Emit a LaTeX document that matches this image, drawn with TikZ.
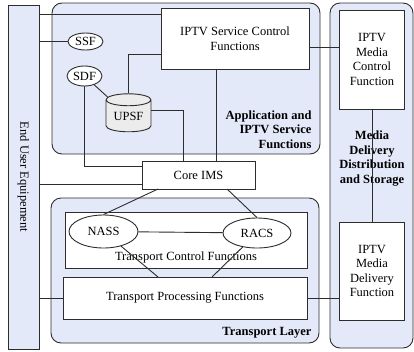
\documentclass[tikz,border=0pt]{standalone}
\usepackage{fontspec}
\setmainfont{Liberation Serif}
\usetikzlibrary{shapes.geometric}
\definecolor{panelfill}{RGB}{228,233,250}
\definecolor{edge}{RGB}{45,45,45}
\definecolor{drum}{RGB}{236,236,236}

\begin{document}
\begin{tikzpicture}[x=1pt,y=1pt,yscale=-1,
  font=\fontsize{12.5}{14.5}\selectfont,
  panel/.style={draw=edge, fill=panelfill, rounded corners=10pt, line width=0.9pt},
  box/.style={draw=edge, fill=white, line width=0.9pt, align=center, inner sep=0pt},
  oval/.style={ellipse, draw=edge, fill=white, line width=0.9pt, inner sep=0pt},
  tag/.style={font=\fontsize{12.5}{14.5}\selectfont\bfseries},
  link/.style={draw=edge, line width=0.9pt}]
\useasboundingbox (0,0) rectangle (414,351);

%Shape: Panels
\draw [panel] (52,3) rectangle (320,154);
\draw [panel] (330,3) rectangle (413,348);
\draw [panel] (51,198) rectangle (319,343);

%Shape: End user bar
\node [box, fill=panelfill, minimum width=31pt, minimum height=344pt,
  label={[rotate=-90]center:End User Equipement}] (eue) at (23.5,177) {};

%Application and IPTV service functions
\node [box, minimum width=148pt, minimum height=61pt] (scf) at (235,38.5) {IPTV Service Control\\Functions};
\node [oval, minimum width=35pt, minimum height=17pt] (ssf) at (85.5,41.5) {SSF};
\node [oval, minimum width=35pt, minimum height=20pt] (sdf) at (84.5,76) {SDF};
\node [cylinder, shape border rotate=90, aspect=0.4, draw=edge, fill=drum, line width=0.9pt,
  inner sep=0pt, minimum width=45pt, minimum height=38pt] (upsf) at (128.5,116) {UPSF};
\node [tag, align=right, anchor=east] (app-label) at (315,129.5) {Application and\\IPTV Service\\Functions};

%Core IMS
\node [box, minimum width=113pt, minimum height=28pt] (coreims) at (198.5,175) {Core IMS};

%Media delivery distribution and storage
\node [box, minimum width=65pt, minimum height=99pt] (mcf) at (372,59.5) {IPTV\\Media\\Control\\Function};
\node [box, minimum width=65pt, minimum height=98pt] (mdf) at (372,271) {IPTV\\Media\\Delivery\\Function};
\node [tag, align=center] (media-label) at (372,158.5) {Media\\Delivery\\Distribution\\and Storage};

%Transport layer
\node [box, minimum width=242pt, minimum height=56pt,
  label={[anchor=south, yshift=2pt]south:Transport Control Functions}] (tcf) at (186,240) {};
\node [box, minimum width=244pt, minimum height=42pt] (tpf) at (185,298) {Transport Processing Functions};
\node [oval, minimum width=69pt, minimum height=33pt] (nass) at (103.5,231.5) {NASS};
\node [oval, minimum width=68pt, minimum height=30pt] (racs) at (257,233) {RACS};
\node [tag, anchor=east] (tl-label) at (315,333) {Transport Layer};

%Straight Lines
\coordinate (scf-eue) at (161,14);
\coordinate (scf-upsf) at (161,54);
\coordinate (ims-sdf) at (142,166);
\coordinate (ims-upsf) at (183,161);
\coordinate (ims-scf) at (216,161);
\coordinate (ims-eue) at (142,184);
\coordinate (mcf-scf) at (340,47);
\coordinate (ims-nass) at (158,189);
\coordinate (ims-racs) at (227,189);
\coordinate (tpf-nass) at (158,277);
\coordinate (tpf-racs) at (212,277);

\draw [link] (eue.east |- scf-eue) -- (scf-eue);
\draw [link] (eue.east |- ssf.west) -- (ssf.west);
\draw [link] (eue.east |- ims-eue) -- (ims-eue);
\draw [link] (eue.east |- tpf.west) -- (tpf.west);
\draw [link] (upsf.north) |- (scf-upsf);
\draw [link] (sdf) -- (upsf);
\draw [link] (sdf.south) |- (ims-sdf);
\draw [link] ([yshift=-6pt]upsf.east) -| (ims-upsf);
\draw [link] (scf.south -| ims-scf) -- (ims-scf);
\draw [link] (scf.east |- mcf-scf) -- (mcf-scf);
\draw [link] (mcf.south) -- (mdf.north);
\draw [link] (ims-nass) -- (nass.north);
\draw [link] (ims-racs) -- (racs.north);
\draw [link] (nass) -- (racs);
\draw [link] (tpf-nass) -- (nass);
\draw [link] (tpf-racs) -- (racs);
\draw [link] (tpf.east) -- (tpf.east -| mdf.west);

\end{tikzpicture}
\end{document}
